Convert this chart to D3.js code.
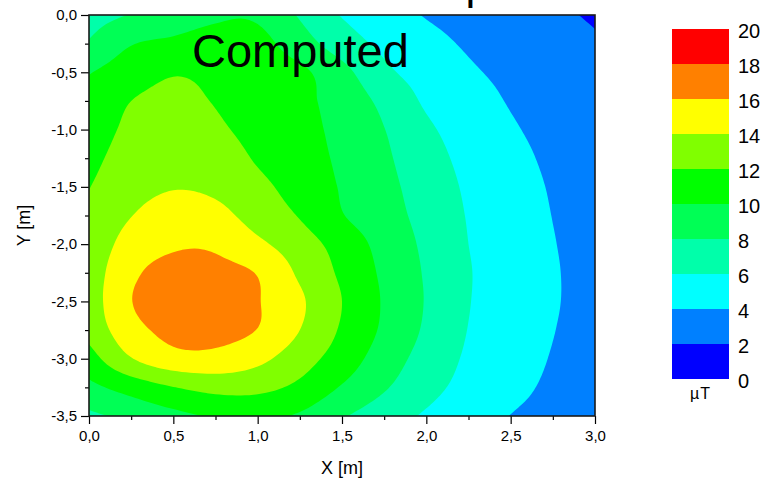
<!DOCTYPE html>
<html>
<head>
<meta charset="utf-8">
<script src="https://cdn.jsdelivr.net/npm/d3@7"></script>
<style>
  body { margin: 0; background: #ffffff; }
  svg { display: block; }
  text { font-family: Arial, "Liberation Sans", sans-serif; fill: #000; }
</style>
</head>
<body>
<svg id="chart" width="766" height="478"></svg>
<script>
// ---------- data ----------
const xValues = [0, 0.25, 0.5, 0.75, 1.0, 1.25, 1.5, 1.75, 2.0, 2.25, 2.5, 2.75, 3.0];
const yValues = [0, -0.25, -0.5, -0.75, -1.0, -1.25, -1.5, -1.75, -2.0, -2.25, -2.5, -2.75, -3.0, -3.25, -3.5];
// field in µT, one row per y value (top row = y 0,0), one column per x value
const fieldRows = [
  [7.2, 8.1, 9.3, 9.8, 9.7, 7.8, 5.88, 4.83, 3.89, 3.36, 2.84, 2.32, 1.8],
  [8.2, 9.9, 10.3, 10.5, 10.6, 8.9, 7.0, 5.55, 4.59, 3.79, 3.26, 2.73, 2.2],
  [9.9, 11.0, 11.85, 11.5, 11.1, 10.4, 8.6, 6.43, 5.23, 4.25, 3.6, 3.05, 2.5],
  [10.5, 12.0, 12.5, 11.9, 11.2, 10.45, 9.23, 7.5, 5.73, 4.75, 3.88, 3.31, 2.75],
  [11.0, 12.4, 12.9, 12.3, 11.4, 10.55, 9.51, 8.04, 6.33, 5.18, 4.19, 3.53, 2.95],
  [11.5, 12.8, 13.5, 13.0, 11.8, 10.75, 9.68, 8.32, 6.77, 5.47, 4.49, 3.7, 3.1],
  [11.95, 13.2, 13.9, 13.6, 12.5, 11.2, 9.85, 8.55, 7.13, 5.72, 4.74, 3.86, 3.25],
  [12.35, 13.95, 15.0, 14.6, 13.2, 11.87, 10.1, 8.78, 7.38, 5.89, 4.92, 3.97, 3.35],
  [12.6, 14.8, 15.75, 15.7, 14.4, 12.9, 11.2, 9.31, 7.62, 6.0, 5.03, 4.07, 3.45],
  [12.85, 15.6, 16.6, 16.5, 15.9, 13.67, 11.65, 9.64, 7.8, 6.12, 5.1, 4.14, 3.5],
  [12.9, 15.95, 16.8, 16.9, 16.1, 14.3, 12.0, 9.81, 7.88, 6.08, 5.09, 4.14, 3.5],
  [12.6, 15.3, 16.5, 16.6, 15.95, 14.0, 11.75, 9.67, 7.71, 5.95, 5.0, 4.05, 3.45],
  [11.2, 13.9, 15.3, 15.4, 14.5, 12.87, 11.05, 9.05, 7.24, 5.73, 4.79, 3.91, 3.4],
  [9.5, 10.8, 11.95, 12.6, 12.5, 11.55, 9.84, 8.2, 6.63, 5.4, 4.44, 3.75, 3.3],
  [7.6, 8.5, 9.4, 10.2, 10.4, 9.74, 8.19, 6.91, 5.76, 4.84, 3.97, 3.59, 3.2]
];
const levels = [0, 2, 4, 6, 8, 10, 12, 14, 16, 18, 20];
const levelColors = ["#0000FF", "#0080FF", "#00FFFF", "#00FFAA", "#00FF55",
                     "#00FF00", "#80FF00", "#FFFF00", "#FF8000", "#FF0000"];
const xTicks = [0, 0.5, 1.0, 1.5, 2.0, 2.5, 3.0];
const xMinorTicks = [0.25, 0.75, 1.25, 1.75, 2.25, 2.75];
const yTicks = [0, -0.5, -1.0, -1.5, -2.0, -2.5, -3.0, -3.5];
const yMinorTicks = [-0.25, -0.75, -1.25, -1.75, -2.25, -2.75, -3.25];
const xLabel = "X [m]";
const yLabel = "Y [m]";
const unitLabel = "\u00B5T";
const insideLabel = "Computed";
const titleText = "Map";

// ---------- layout ----------
const svg = d3.select("#chart");
const plot = { left: 89, right: 595, top: 15, bottom: 416 };
const x = d3.scaleLinear().domain([0, 3]).range([plot.left, plot.right]);
const y = d3.scaleLinear().domain([-3.5, 0]).range([plot.bottom, plot.top]);
const fmt = d => d.toFixed(1).replace(".", ",");
const FONT = "Arial, 'Liberation Sans', sans-serif";

svg.append("defs").append("clipPath").attr("id", "plotClip")
  .append("rect")
  .attr("x", plot.left).attr("y", plot.top)
  .attr("width", plot.right - plot.left).attr("height", plot.bottom - plot.top);

// ---------- filled contours (bicubic display resampling of the grid) ----------
const nx = xValues.length, ny = yValues.length;
const F = 10;
function cubic(p0, p1, p2, p3, t) {
  return p1 + 0.5 * t * (p2 - p0 + t * (2 * p0 - 5 * p1 + 4 * p2 - p3 + t * (3 * (p1 - p2) + p3 - p0)));
}
function sample(arr, u) {
  const n = arr.length;
  let i = Math.floor(u); if (i >= n - 1) i = n - 2; if (i < 0) i = 0;
  const t = u - i;
  const g = k => k < 0 ? 2 * arr[0] - arr[1] : k > n - 1 ? 2 * arr[n - 1] - arr[n - 2] : arr[k];
  return cubic(g(i - 1), g(i), g(i + 1), g(i + 2), t);
}
const nxf = (nx - 1) * F + 1, nyf = (ny - 1) * F + 1;
const rowsFine = fieldRows.map(r => d3.range(nxf).map(i => sample(r, i / F)));
const fine = new Array(nxf * nyf);
for (let i = 0; i < nxf; i++) {
  const col = rowsFine.map(r => r[i]);
  for (let j = 0; j < nyf; j++) fine[j * nxf + i] = sample(col, j / F);
}
const contours = d3.contours().size([nxf, nyf]).smooth(true)
  .thresholds(levels.slice(0, -1))(fine);
const gx = d3.scaleLinear().domain([0.5, nxf - 0.5]).range([x(xValues[0]), x(xValues[nx - 1])]);
const gy = d3.scaleLinear().domain([0.5, nyf - 0.5]).range([y(yValues[0]), y(yValues[ny - 1])]);
const ringLine = d3.line().x(p => gx(p[0])).y(p => gy(p[1])).curve(d3.curveLinearClosed);
const toPath = mp => mp.coordinates
  .map(poly => poly.map(ring => ringLine(ring.slice(0, -1))).join(""))
  .join("");

const gContours = svg.append("g").attr("clip-path", "url(#plotClip)");
gContours.selectAll("path").data(contours).join("path")
  .attr("d", toPath)
  .attr("fill", d => levelColors[levels.indexOf(d.value)])
  .attr("fill-rule", "evenodd")
  .attr("stroke", "none");

// ---------- axes ----------
const axisFont = 15;
const gx1 = svg.append("g").attr("transform", `translate(0,${plot.bottom})`)
  .call(d3.axisBottom(x).tickValues(xTicks).tickFormat(fmt).tickSize(8).tickSizeOuter(0).tickPadding(6));
const gx2 = svg.append("g").attr("transform", `translate(0,${plot.bottom})`)
  .call(d3.axisBottom(x).tickValues(xMinorTicks).tickFormat("").tickSize(4).tickSizeOuter(0));
const gy1 = svg.append("g").attr("transform", `translate(${plot.left},0)`)
  .call(d3.axisLeft(y).tickValues(yTicks).tickFormat(fmt).tickSize(8).tickSizeOuter(0).tickPadding(4));
const gy2 = svg.append("g").attr("transform", `translate(${plot.left},0)`)
  .call(d3.axisLeft(y).tickValues(yMinorTicks).tickFormat("").tickSize(4).tickSizeOuter(0));
[gx1, gx2, gy1, gy2].forEach(g => {
  g.select(".domain").remove();
  g.selectAll("line").attr("stroke", "#000").attr("stroke-width", 1.2);
  g.selectAll("text").attr("font-size", axisFont).attr("font-family", FONT).attr("fill", "#000");
});

// frame
svg.append("rect")
  .attr("x", plot.left).attr("y", plot.top)
  .attr("width", plot.right - plot.left).attr("height", plot.bottom - plot.top)
  .attr("fill", "none").attr("stroke", "#1a1a1a").attr("stroke-width", 1.6);

// axis titles
svg.append("text").attr("x", (plot.left + plot.right) / 2).attr("y", 474)
  .attr("text-anchor", "middle").attr("font-size", 18).text(xLabel);
svg.append("text").attr("transform", `translate(30,${(plot.top + plot.bottom) / 2 + 10}) rotate(-90)`)
  .attr("text-anchor", "middle").attr("font-size", 18).text(yLabel);

// inside label
svg.append("text").attr("x", 192).attr("y", 67).attr("font-size", 47).text(insideLabel);

// title (mostly above the visible area)
svg.append("text").attr("x", 490).attr("y", -1).attr("text-anchor", "end")
  .attr("font-size", 44).text(titleText);

// ---------- colour bar ----------
const cb = { left: 672, width: 57, top: 29, bottom: 379 };
const cScale = d3.scaleLinear().domain([levels[0], levels[levels.length - 1]]).range([cb.bottom, cb.top]);
const bands = levels.slice(0, -1).map((v, i) => ({ lo: v, hi: levels[i + 1], color: levelColors[i] }));
svg.append("g").selectAll("rect").data(bands).join("rect")
  .attr("x", cb.left).attr("width", cb.width)
  .attr("y", d => cScale(d.hi)).attr("height", d => cScale(d.lo) - cScale(d.hi))
  .attr("fill", d => d.color);
const gcb = svg.append("g").attr("transform", `translate(${cb.left + cb.width},2)`)
  .call(d3.axisRight(cScale).tickValues(levels).tickFormat(d => String(d)).tickSize(0).tickPadding(9));
gcb.select(".domain").remove();
gcb.selectAll("text").attr("font-size", 20).attr("font-family", FONT).attr("fill", "#000");
svg.append("text").attr("x", cb.left + cb.width / 2).attr("y", 399)
  .attr("text-anchor", "middle").attr("font-size", 16).attr("letter-spacing", 1).text(unitLabel);
</script>
</body>
</html>
